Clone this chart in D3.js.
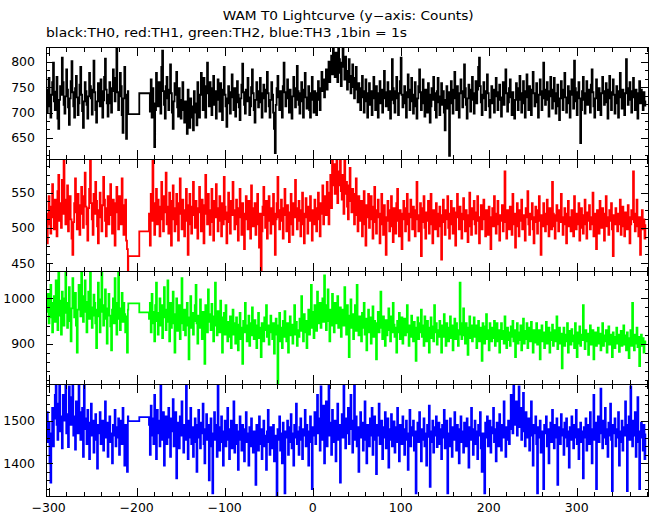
<!DOCTYPE html>
<html><head><meta charset="utf-8">
<script src="https://cdn.jsdelivr.net/npm/d3@7"></script>
<style>
html,body{margin:0;padding:0;background:#fff;}
svg{display:block;font-family:"DejaVu Sans",Verdana,sans-serif;}
</style></head>
<body>
<svg id="chart" width="652" height="515"></svg>
<script>
// ---------------- DATA ----------------
const titleText = "WAM T0 Lightcurve (y\u2212axis: Counts)";
const subtitleText = "black:TH0, red:TH1, green:TH2, blue:TH3 ,1bin = 1s";
const seriesNames = ["TH0", "TH1", "TH2", "TH3"];
const seriesColors = ["#000000", "#ff0000", "#00ff00", "#0000ff"];
const xTickValues = [-300, -200, -100, 0, 100, 200, 300];
const yTickValues = [[650, 700, 750, 800], [450, 500, 550], [900, 1000], [1400, 1500]];
const yMinorStep = [50 / 3, 12.5, 20, 20];
const yDomains = [[608, 829], [438, 597], [810, 1059], [1322, 1585]];
const xDomain = [-303, 381];

const segAStart = -302, segAEnd = -210;   // 1 s bins before the gap
const gapTimes = [-209.5, -197];          // two wide bins inside the gap
const segBStart = -186, segBEnd = 378;    // 1 s bins after the gap

const th0A = [700,745,768,712,690,735,760,798,722,705,
741,770,688,668,725,752,735,808,760,715,
698,732,785,745,710,676,728,762,801,740,
712,690,748,772,730,695,718,755,790,735,
703,670,722,760,742,715,688,732,778,752,
728,696,745,802,740,705,680,722,758,731,
712,765,742,690,724,770,806,745,718,692,
735,760,718,700,748,785,742,722,768,826,
740,705,732,778,752,695,660,728,790,735,
648,705,742];
const th0Gap = [697, 738];
const th0B = [738,702,765,690,748,718,632,705,778,745,
712,760,735,698,790,822,742,715,688,752,
770,728,705,745,795,738,700,668,722,758,
735,780,710,692,748,725,688,705,760,712,
680,722,698,658,745,705,670,728,690,712,
665,742,700,718,675,760,722,690,735,778,
745,705,768,728,690,752,798,738,712,760,
730,695,748,772,715,742,688,725,765,740,
702,758,730,685,745,790,735,712,672,728,
752,718,698,740,775,730,705,748,692,720,
762,735,710,685,728,755,796,740,715,698,
745,722,768,730,695,712,750,785,738,705,
680,725,760,742,710,732,768,720,690,738,
755,728,702,745,780,738,712,690,725,760,
735,700,668,620,715,748,772,730,705,742,
718,690,752,798,740,712,728,765,735,700,
745,720,688,732,770,748,710,725,792,742,
715,698,738,760,722,690,745,778,730,708,
728,752,705,690,738,770,725,700,742,718,
695,738,762,725,705,748,780,742,765,730,
758,785,745,772,800,760,790,812,775,829,
795,770,818,785,760,829,805,778,752,798,
829,790,765,810,782,745,775,805,760,738,
772,795,750,728,768,790,745,720,758,735,
705,748,772,730,700,742,765,722,690,738,
758,715,742,695,728,770,735,705,752,725,
690,738,762,718,745,700,728,782,740,712,
735,760,705,742,688,725,805,748,718,700,
742,770,728,695,738,762,808,735,710,725,
752,718,690,740,775,730,705,745,768,722,
698,735,760,712,688,728,752,785,740,705,
730,765,718,692,745,722,700,758,735,680,
712,748,725,770,738,705,690,742,768,720,
695,732,758,715,742,700,665,725,752,708,
740,615,718,762,735,698,745,780,728,705,
752,722,690,738,765,742,710,730,795,748,
715,688,728,755,732,702,745,770,725,698,
738,762,718,745,790,808,752,720,695,735,
760,728,705,742,775,738,712,690,725,752,
718,745,700,732,768,740,705,725,755,730,
692,728,760,715,742,785,738,702,720,748,
765,730,695,740,712,688,725,758,735,705,
748,772,725,700,738,762,718,690,742,775,
730,705,752,728,695,745,780,738,712,726,
758,720,690,735,765,742,705,728,798,745,
715,738,760,725,692,742,770,732,708,745,
768,722,698,738,755,712,685,728,762,740,
705,745,778,730,700,725,752,718,690,742,
765,735,708,802,748,722,695,740,760,728,
640,705,742,770,725,698,738,762,715,745,
730,700,755,785,740,712,690,728,765,738,
705,748,722,695,738,770,742,715,730,758,
720,688,745,772,728,705,740,765,735,698,
725,752,718,690,742,778,730,708,745,722,
695,738,805,748,715,732,760,725,700,742,
768,730,705,745,722,688,738,762,718,745,
730,705,740,722,712];

const th1A = [478,520,545,505,492,530,562,515,498,540,
525,488,552,575,510,535,500,568,520,597,
540,505,528,560,495,518,545,512,485,462,
508,535,570,522,498,548,515,490,532,558,
520,500,545,578,530,505,482,528,555,597,
535,512,490,548,520,565,538,502,478,525,
550,515,495,532,572,540,510,488,528,545,
505,530,562,518,492,540,515,475,535,558,
522,498,545,528,505,570,532,490,515,540,
482,470,440];
const th1Gap = [460, 495];
const th1B = [520,475,548,510,597,535,490,528,555,505,
540,515,488,530,565,512,495,545,522,578,
505,530,492,550,518,475,538,560,512,495,
528,548,505,482,535,570,520,498,540,515,
488,525,555,510,462,532,548,505,492,530,
565,518,500,538,512,485,528,558,522,495,
540,515,478,532,575,520,505,548,512,490,
525,555,508,482,538,515,562,528,495,510,
545,520,488,535,505,572,530,512,478,522,
550,508,492,538,518,565,525,498,512,540,
505,482,528,555,515,490,535,520,470,512,
545,525,498,538,510,485,560,528,502,518,
535,490,512,548,505,472,520,440,495,530,
558,518,500,538,485,522,545,510,492,528,
505,548,520,462,512,535,572,515,498,525,
540,510,485,528,555,518,495,532,512,480,
522,548,505,490,535,515,568,528,498,510,
538,512,488,525,550,505,478,520,542,515,
492,530,510,545,518,482,525,505,540,515,
495,528,550,512,488,535,520,560,505,530,
545,518,565,538,505,550,575,528,597,560,
590,548,572,597,535,580,560,597,552,540,
575,520,597,548,565,530,512,560,585,538,
522,555,540,505,548,570,518,495,545,528,
510,538,488,525,552,505,475,532,515,548,
500,522,545,512,485,530,558,508,492,525,
540,515,478,520,548,505,490,532,515,462,
510,538,525,495,512,545,502,480,528,518,
492,535,555,510,488,525,505,470,520,538,
512,495,528,548,505,482,520,540,515,498,
530,505,488,525,565,512,495,518,535,460,
508,528,545,500,485,522,510,538,492,515,
548,505,478,525,512,498,535,520,488,510,
530,502,455,518,540,508,490,525,512,545,
500,485,520,538,505,492,528,510,475,522,
548,515,498,530,505,485,520,542,512,495,
525,508,480,518,550,502,490,528,512,538,
505,492,522,545,510,478,515,532,498,520,
540,512,488,525,505,490,530,515,470,508,
528,502,545,515,492,520,538,505,482,518,
510,532,495,520,580,508,485,525,512,498,
530,515,490,548,505,520,472,512,535,502,
488,525,510,540,498,518,505,482,528,515,
552,505,490,520,512,535,498,478,515,530,
508,492,525,545,510,462,518,502,535,520,
495,515,540,505,488,528,512,498,565,520,
502,485,518,532,510,495,525,508,548,515,
490,512,528,505,478,520,538,502,515,495,
525,510,488,545,512,498,520,505,535,482,
515,528,500,492,518,540,505,485,522,510,
532,498,515,505,550,488,520,510,470,525,
505,492,538,515,500,528,512,482,520,545,
502,515,490,525,510,535,498,460,518,505,
528,512,495,520,505,540,490,515,530,502,
488,522,510,498,532,515,478,505,525,512,
580,508,495,520,540,502,488,515,462,510,
525,498,512,485,505];

const th2A = [970,1010,945,985,1030,958,925,990,1005,948,
1040,975,930,1059,995,962,920,1015,985,940,
1000,1059,968,935,990,1025,950,905,978,1045,
985,958,1012,940,880,975,1030,995,960,1059,
1005,948,985,1040,970,925,992,1015,955,1059,
980,935,962,1008,990,945,890,975,1035,960,
925,998,1059,970,940,985,1020,955,900,978,
1010,962,938,885,975,1000,945,1045,968,920,
990,1059,955,930,978,1012,948,990,965,925,
960,880,975];
const th2Gap = [989, 969];
const th2B = [955,990,925,1010,945,970,905,985,1035,950,
920,968,1000,940,985,912,958,1025,975,930,
960,1040,948,905,990,935,970,1015,945,880,
965,1000,928,952,985,910,945,1045,962,930,
975,918,955,990,940,865,958,1005,935,968,
920,950,985,1030,945,900,962,935,998,955,
910,970,942,855,985,952,925,1020,948,965,
930,988,945,905,960,1035,940,918,972,950,
925,995,958,880,940,968,920,985,935,905,
948,915,960,890,935,975,920,945,900,958,
930,885,942,968,910,935,855,950,925,990,
940,905,928,962,895,945,918,980,930,910,
952,925,890,940,968,912,935,870,945,920,
905,958,930,985,915,940,898,925,962,935,
910,945,878,930,955,920,812,940,968,905,
935,890,950,915,972,928,905,945,880,925,
960,918,942,900,935,985,920,948,895,930,
915,955,928,1005,940,905,965,925,950,890,
945,975,920,960,1030,935,970,912,985,950,
928,1015,960,945,990,935,975,1000,948,1051,
965,930,985,1020,950,905,975,940,1010,958,
925,990,945,968,1005,935,960,980,915,952,
975,940,1025,958,920,985,945,870,962,998,
935,965,910,950,985,928,1030,945,918,960,
940,905,968,935,990,920,955,885,945,975,
925,958,900,940,982,915,950,930,865,945,
970,925,955,1015,935,910,960,940,895,952,
918,945,978,930,905,960,925,990,942,915,
935,880,950,925,968,910,940,958,900,930,
955,918,945,985,925,895,940,915,962,930,
905,948,920,862,935,958,910,945,925,975,
915,940,895,960,928,905,950,920,880,935,
958,912,938,905,985,925,945,898,930,915,
950,920,880,940,915,965,930,895,945,918,
905,935,960,912,940,885,925,955,910,945,
930,895,920,1035,945,910,938,978,918,900,
945,925,875,935,960,912,940,905,930,958,
915,940,890,925,950,905,935,918,862,945,
920,900,938,965,910,930,885,945,918,905,
935,912,950,895,925,945,905,930,880,918,
945,910,928,900,960,920,890,935,908,925,
895,938,915,950,905,930,870,918,945,900,
925,908,940,885,918,955,900,928,910,945,
890,920,935,905,948,915,880,930,902,925,
945,898,918,930,865,910,940,905,925,890,
920,948,900,915,935,880,925,908,942,895,
918,930,905,960,888,915,935,900,922,845,
910,935,895,920,905,945,880,915,928,898,
932,905,918,890,945,910,870,925,900,938,
895,920,908,985,915,888,930,905,922,875,
918,940,898,912,930,865,905,925,895,915,
935,900,922,885,910,945,895,918,905,930,
880,912,938,898,920,905,870,925,908,890,
915,935,900,920,882,910,928,895,915,940,
898,918,885,925,905,868,912,930,895,990,
910,885,920,900,935,892,915,850,905,920,
895,912,880,905,898];

const th3A = [1520,1450,1495,1400,1355,1470,1530,1440,1505,1560,
1585,1490,1455,1540,1585,1475,1510,1435,1560,1500,
1545,1585,1470,1515,1438,1580,1525,1490,1555,1585,
1465,1510,1432,1545,1500,1470,1585,1520,1455,1490,
1530,1415,1585,1480,1505,1445,1525,1470,1410,1495,
1540,1465,1500,1425,1480,1515,1455,1388,1490,1470,
1520,1445,1485,1500,1430,1475,1545,1460,1495,1415,
1480,1510,1450,1470,1400,1490,1465,1525,1440,1485,
1460,1505,1420,1478,1500,1445,1530,1470,1395,1490,
1455,1380,1510];
const th3Gap = [1499, 1508];
const th3B = [1490,1420,1535,1465,1505,1445,1560,1480,1410,1525,
1470,1500,1440,1585,1485,1455,1520,1395,1475,1510,
1445,1490,1530,1460,1415,1505,1475,1550,1440,1485,
1520,1365,1470,1495,1435,1510,1465,1545,1480,1425,
1490,1455,1585,1475,1410,1500,1460,1530,1445,1485,
1415,1470,1505,1450,1380,1490,1525,1460,1435,1495,
1470,1540,1445,1400,1480,1515,1455,1490,1360,1475,
1505,1440,1330,1470,1520,1455,1490,1415,1585,1465,
1430,1485,1510,1450,1395,1475,1500,1440,1465,1530,
1455,1410,1480,1500,1435,1465,1545,1425,1470,1490,
1445,1385,1475,1510,1455,1430,1490,1465,1405,1480,
1520,1450,1470,1395,1485,1440,1505,1460,1425,1475,
1455,1350,1490,1465,1430,1510,1445,1480,1410,1470,
1500,1440,1465,1385,1475,1525,1450,1420,1485,1460,
1435,1490,1405,1465,1445,1325,1480,1455,1510,1430,
1470,1400,1495,1440,1330,1475,1460,1500,1420,1485,
1450,1515,1435,1470,1395,1490,1460,1540,1445,1475,
1420,1485,1505,1455,1410,1480,1465,1525,1440,1490,
1460,1395,1475,1510,1450,1340,1485,1465,1520,1445,
1490,1560,1470,1505,1430,1580,1485,1455,1535,1400,
1475,1545,1440,1510,1585,1465,1495,1420,1525,1480,
1450,1500,1405,1470,1540,1455,1490,1355,1475,1515,
1460,1585,1490,1435,1505,1470,1530,1445,1480,1560,
1500,1425,1470,1585,1455,1510,1440,1485,1380,1475,
1520,1460,1495,1430,1475,1545,1455,1400,1490,1470,
1440,1505,1465,1530,1420,1480,1510,1455,1375,1490,
1465,1540,1445,1475,1500,1410,1485,1460,1520,1435,
1470,1505,1390,1480,1455,1515,1440,1470,1498,1425,
1485,1450,1530,1465,1405,1490,1475,1445,1510,1460,
1420,1480,1500,1455,1385,1470,1525,1440,1485,1465,
1500,1430,1475,1330,1460,1495,1450,1520,1470,1405,
1480,1455,1505,1440,1470,1395,1490,1462,1535,1345,
1475,1450,1500,1425,1485,1465,1510,1438,1470,1495,
1445,1480,1410,1490,1460,1525,1435,1475,1500,1330,
1470,1440,1505,1465,1415,1485,1455,1520,1475,1430,
1490,1460,1400,1480,1510,1450,1475,1425,1495,1465,
1440,1505,1470,1390,1485,1455,1530,1460,1420,1480,
1500,1445,1475,1410,1490,1465,1520,1435,1380,1470,
1455,1330,1495,1460,1510,1440,1475,1500,1425,1485,
1470,1530,1450,1480,1405,1495,1465,1440,1515,1475,
1430,1490,1460,1545,1470,1415,1485,1455,1500,1445,
1480,1560,1505,1470,1585,1520,1490,1545,1465,1510,
1580,1485,1530,1455,1500,1565,1475,1440,1520,1490,
1460,1505,1430,1480,1545,1465,1395,1490,1470,1510,
1445,1330,1485,1460,1500,1425,1475,1455,1340,1490,
1470,1510,1440,1480,1400,1465,1495,1450,1525,1475,
1435,1490,1460,1505,1350,1470,1485,1445,1515,1465,
1480,1420,1495,1460,1505,1440,1475,1390,1485,1455,
1510,1470,1435,1490,1460,1525,1445,1480,1410,1470,
1495,1450,1475,1365,1485,1460,1505,1430,1470,1490,
1445,1520,1465,1400,1480,1560,1455,1495,1340,1475,
1510,1450,1485,1575,1470,1435,1500,1460,1530,1445,
1480,1415,1495,1465,1540,1455,1335,1490,1470,1505,
1440,1480,1460,1520,1395,1475,1450,1500,1430,1485,
1465,1545,1490,1335,1470,1510,1455,1580,1480,1440,
1500,1465,1520,1415,1485,1555,1450,1340,1475,1495,
1460,1430,1490,1410,1470];

const seriesA = [th0A, th1A, th2A, th3A];
const seriesGap = [th0Gap, th1Gap, th2Gap, th3Gap];
const seriesB = [th0B, th1B, th2B, th3B];

// ---------------- LAYOUT ----------------
const svg = d3.select("#chart");
const plotLeft = 46, plotRight = 648;
const panelEdges = [47, 159.3, 271.7, 384.3, 496.7];
const fontSize = 12.5;

const x = d3.scaleLinear().domain(xDomain).range([plotLeft, plotRight]);

svg.append("text").attr("x", 222.7).attr("y", 20)
  .attr("font-size", 12).attr("fill", "#000")
  .attr("textLength", 251).attr("lengthAdjust", "spacingAndGlyphs").text(titleText);
svg.append("text").attr("x", plotLeft).attr("y", 37)
  .attr("font-size", 12).attr("fill", "#000")
  .attr("textLength", 361).attr("lengthAdjust", "spacingAndGlyphs").text(subtitleText);

function buildPoints(i) {
  const pts = [];
  const a = seriesA[i];
  for (let k = 0; k < a.length && segAStart + k <= segAEnd; k++) pts.push([segAStart + k, a[k]]);
  seriesGap[i].forEach((v, k) => pts.push([gapTimes[k], v]));
  const b = seriesB[i];
  for (let k = 0; k < b.length && segBStart + k <= segBEnd; k++) pts.push([segBStart + k, b[k]]);
  return pts;
}

const xMajor = xTickValues;
const xMinor = d3.range(-300, 381, 20).filter(v => v % 100 !== 0);

seriesNames.forEach((name, i) => {
  const top = panelEdges[i], bottom = panelEdges[i + 1];
  const y = d3.scaleLinear().domain(yDomains[i]).range([bottom, top]);
  const g = svg.append("g").attr("class", "panel-" + name);

  const clipId = "clip" + i;
  svg.append("clipPath").attr("id", clipId).append("rect")
    .attr("x", plotLeft).attr("y", top).attr("width", plotRight - plotLeft).attr("height", bottom - top);

  const line = d3.line().x(d => x(d[0])).y(d => y(d[1])).curve(d3.curveStepAfter);
  g.append("path").datum(buildPoints(i))
    .attr("clip-path", "url(#" + clipId + ")")
    .attr("fill", "none").attr("stroke", seriesColors[i]).attr("stroke-width", 1.8)
    .attr("stroke-linejoin", "miter").attr("stroke-linecap", "butt")
    .attr("d", line);

  // frame
  g.append("rect").attr("x", plotLeft).attr("y", top)
    .attr("width", plotRight - plotLeft).attr("height", bottom - top)
    .attr("fill", "none").attr("stroke", "#000").attr("stroke-width", 1)
    .attr("shape-rendering", "crispEdges");

  // x ticks (inward, bottom and top)
  const xAxisB = d3.axisTop(x).tickValues(xMajor).tickSize(9).tickFormat("");
  const xAxisBm = d3.axisTop(x).tickValues(xMinor).tickSize(4.5).tickFormat("");
  const xAxisT = d3.axisBottom(x).tickValues(xMajor).tickSize(9).tickFormat("");
  const xAxisTm = d3.axisBottom(x).tickValues(xMinor).tickSize(4.5).tickFormat("");
  [[xAxisB, bottom], [xAxisBm, bottom], [xAxisT, top], [xAxisTm, top]].forEach(([ax, yy]) => {
    const ga = g.append("g").attr("transform", `translate(0,${yy})`).call(ax);
    ga.select(".domain").remove();
    ga.selectAll("line").attr("stroke", "#000").attr("shape-rendering", "crispEdges");
  });

  // y ticks (inward, left and right)
  const [d0, d1] = yDomains[i];
  const major = yTickValues[i];
  const step = yMinorStep[i];
  const minor = [];
  for (let v = major[0] - step; v > d0; v -= step) minor.push(v);
  for (let v = major[0] + step; v < d1; v += step) {
    if (!major.some(m => Math.abs(m - v) < 1e-6)) minor.push(v);
  }
  const yl = d3.axisRight(y).tickValues(major).tickSize(7).tickFormat("");
  const ylm = d3.axisRight(y).tickValues(minor).tickSize(3.5).tickFormat("");
  const yr = d3.axisLeft(y).tickValues(major).tickSize(7).tickFormat("");
  const yrm = d3.axisLeft(y).tickValues(minor).tickSize(3.5).tickFormat("");
  [[yl, plotLeft], [ylm, plotLeft], [yr, plotRight], [yrm, plotRight]].forEach(([ax, xx]) => {
    const ga = g.append("g").attr("transform", `translate(${xx},0)`).call(ax);
    ga.select(".domain").remove();
    ga.selectAll("line").attr("stroke", "#000").attr("shape-rendering", "crispEdges");
  });

  // y labels
  g.selectAll("text.ylab").data(major).enter().append("text").attr("class", "ylab")
    .attr("x", 35).attr("y", d => y(d)).attr("dy", "0.36em")
    .attr("text-anchor", "end").attr("font-size", fontSize).attr("fill", "#000")
    .text(d => d);
});

// x labels at the bottom
svg.selectAll("text.xlab").data(xTickValues).enter().append("text").attr("class", "xlab")
  .attr("x", d => x(d)).attr("y", 512).attr("text-anchor", "middle")
  .attr("font-size", fontSize).attr("fill", "#000")
  .text(d => d < 0 ? "\u2212" + Math.abs(d) : String(d));
</script>
</body></html>
